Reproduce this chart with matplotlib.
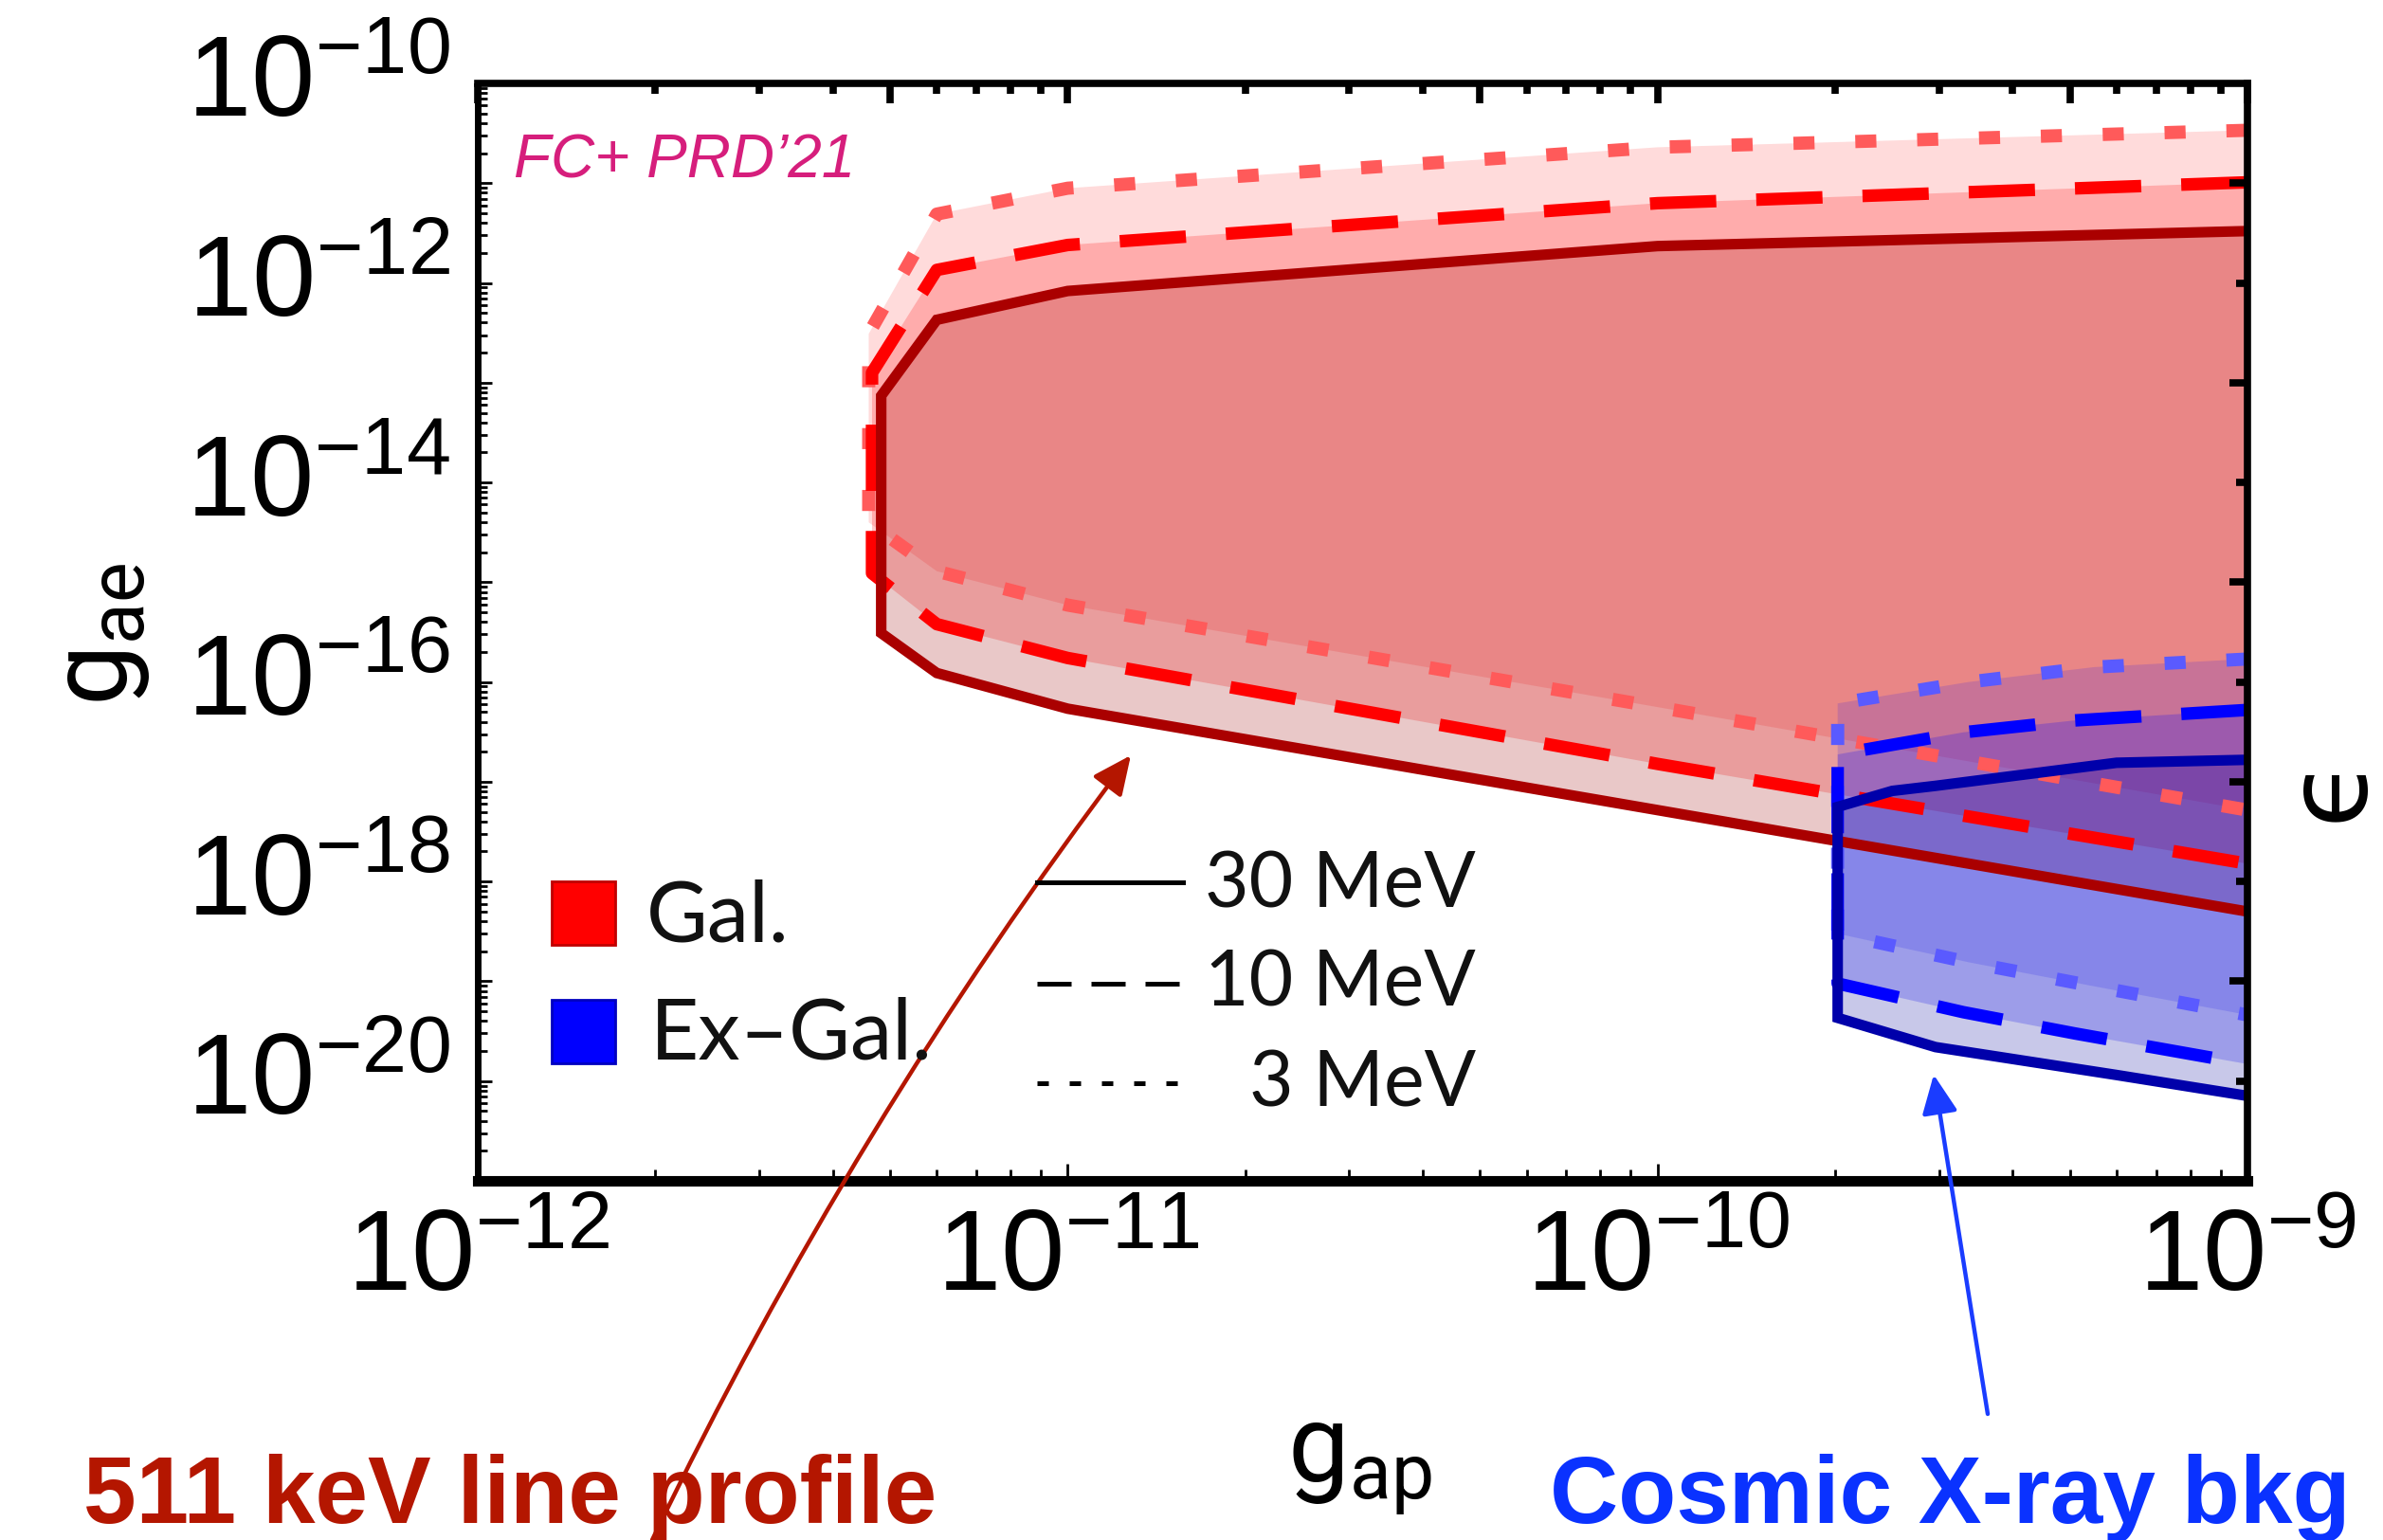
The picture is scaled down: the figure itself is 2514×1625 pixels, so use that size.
import matplotlib
matplotlib.use("Agg")
import matplotlib.pyplot as plt
from matplotlib.ticker import FixedLocator, NullFormatter, LogLocator
from matplotlib.patches import Rectangle, FancyArrowPatch
from matplotlib.lines import Line2D
from matplotlib.transforms import ScaledTranslation

plt.rcParams['font.family'] = ['Liberation Sans', 'DejaVu Sans']

# ---------------- data ----------------
gap_range = (1e-12, 1e-9)
gae_range = (1e-21, 1e-10)

x_ticks = [1e-12, 1e-11, 1e-10, 1e-9]
x_tick_labels = [r'$\mathregular{10^{-12}}$', r'$\mathregular{10^{-11}}$',
                 r'$\mathregular{10^{-10}}$', r'$\mathregular{10^{-9}}$']
y_ticks = [1e-21, 1e-20, 1e-19, 1e-18, 1e-17, 1e-16, 1e-15, 1e-14,
           1e-13, 1e-12, 1e-11, 1e-10]
y_tick_labels = ['', r'$\mathregular{10^{-20}}$', '', r'$\mathregular{10^{-18}}$', '',
                 r'$\mathregular{10^{-16}}$', '', r'$\mathregular{10^{-14}}$', '',
                 r'$\mathregular{10^{-12}}$', '', r'$\mathregular{10^{-10}}$']

# Galactic bounds (511 keV line profile): g_ap grid, upper / lower g_ae
gal_3_x = [4.6e-12, 6.0e-12, 1.0e-11, 1.0e-10, 1.0e-9]
gal_3_hi = [3.09e-13, 4.9e-12, 8.9e-12, 2.29e-11, 3.39e-11]
gal_3_lo = [3.98e-15, 1.29e-15, 5.9e-16, 5.6e-17, 5.2e-18]

gal_10_x = [4.66e-12, 6.0e-12, 1.0e-11, 1.0e-10, 1.0e-9]
gal_10_hi = [1.26e-13, 1.35e-12, 2.4e-12, 6.3e-12, 1.02e-11]
gal_10_lo = [1.23e-15, 3.8e-16, 1.74e-16, 1.51e-17, 1.51e-18]

gal_30_x = [4.83e-12, 6.0e-12, 1.0e-11, 1.0e-10, 1.0e-9]
gal_30_hi = [7.4e-14, 4.27e-13, 8.3e-13, 2.34e-12, 3.31e-12]
gal_30_lo = [3.09e-16, 1.23e-16, 5.4e-17, 5.2e-18, 5.0e-19]

# Extragalactic bounds (cosmic X-ray background)
exg_3_x = [2.02e-10, 3.37e-10, 5.5e-10, 1.0e-9]
exg_3_hi = [6.1e-17, 1.0e-16, 1.41e-16, 1.7e-16]
exg_3_lo = [3.0e-19, 1.55e-19, 8.9e-20, 4.6e-20]

exg_10_x = [2.02e-10, 3.3e-10, 5.1e-10, 1.0e-9]
exg_10_hi = [1.88e-17, 3.13e-17, 4.12e-17, 5.25e-17]
exg_10_lo = [9.5e-20, 4.9e-20, 3.0e-20, 1.48e-20]

exg_30_x = [2.02e-10, 2.5e-10, 2.96e-10, 6.0e-10, 1.0e-9]
exg_30_hi = [5.6e-18, 8.1e-18, 9.1e-18, 1.55e-17, 1.66e-17]
exg_30_lo = [4.3e-20, 2.95e-20, 2.19e-20, 1.15e-20, 7.1e-21]

mass_labels = ['30 MeV', '10 MeV', '3 MeV']
source_labels = ['Gal.', 'Ex\u2013Gal.']

# ---------------- figure ----------------
W, H, DPI = 2514, 1625, 100
fig = plt.figure(figsize=(W / DPI, H / DPI), dpi=DPI)


def fx(px):
    return px / W


def fy(py):
    return 1 - py / H


AX_L, AX_R, AX_T, AX_B = 504, 2371, 88, 1246
rect = [fx(AX_L), fy(AX_B), (AX_R - AX_L) / W, (AX_B - AX_T) / H]
ax = fig.add_axes(rect)
ax.set_xscale('log')
ax.set_yscale('log')
ax.set_xlim(gap_range)
ax.set_ylim(gae_range)


def band(x, hi, lo):
    return list(x) + list(x)[::-1], list(hi) + list(lo)[::-1]


def edge(x, hi, lo):
    return list(x)[::-1] + list(x), list(hi)[::-1] + list(lo)


gal = [(gal_3_x, gal_3_hi, gal_3_lo), (gal_10_x, gal_10_hi, gal_10_lo),
       (gal_30_x, gal_30_hi, gal_30_lo)]
exg = [(exg_3_x, exg_3_hi, exg_3_lo), (exg_10_x, exg_10_hi, exg_10_lo),
       (exg_30_x, exg_30_hi, exg_30_lo)]

red_fill = [((1, 0, 0), 0.14), ((1, 0, 0), 0.21), ((0.6, 0, 0), 0.216)]
blue_fill = [((0, 0, 1), 0.14), ((0, 0, 1), 0.21), ((0, 0, 0.6), 0.216)]
red_line = ['#FF5A5A', '#FF0000', '#AA0000']
blue_line = ['#5A5AFF', '#0000FF', '#0000AA']
styles = [dict(lw=10, linestyle=(0, (1.6, 3.1))),
          dict(lw=9.5, linestyle=(0, (5.3, 3.2))),
          dict(lw=8, linestyle='-')]

for (x, hi, lo), (c, a) in zip(gal, red_fill):
    xs, ys = band(x, hi, lo)
    ax.fill(xs, ys, color=c, alpha=a, lw=0, zorder=1)
for (x, hi, lo), (c, a) in zip(exg, blue_fill):
    xs, ys = band(x, hi, lo)
    ax.fill(xs, ys, color=c, alpha=a, lw=0, zorder=1)
for (x, hi, lo), col, st in zip(gal, red_line, styles):
    xs, ys = edge(x, hi, lo)
    ax.plot(xs, ys, color=col, zorder=2, solid_joinstyle='miter', **st)
for (x, hi, lo), col, st in zip(exg, blue_line, styles):
    xs, ys = edge(x, hi, lo)
    ax.plot(xs, ys, color=col, zorder=2.1, solid_joinstyle='miter', **st)

# frame
for side, w in (('left', 5), ('bottom', 8), ('top', 5.5), ('right', 5.5)):
    ax.spines[side].set_linewidth(w)
    ax.spines[side].set_capstyle('projecting')

tick_font = ['Liberation Sans Narrow', 'Liberation Sans']
ax.set_xticks(x_ticks, labels=x_tick_labels, fontfamily=tick_font)
ax.set_yticks(y_ticks, labels=y_tick_labels, fontfamily=tick_font)
ax.xaxis.set_minor_locator(LogLocator(base=10, subs=(2, 3, 4, 5, 6, 7, 8, 9), numticks=50))
ax.yaxis.set_minor_locator(LogLocator(base=10, subs=(2, 3, 4, 5, 6, 7, 8, 9), numticks=50))
ax.xaxis.set_minor_formatter(NullFormatter())
ax.yaxis.set_minor_formatter(NullFormatter())
ax.tick_params(axis='both', which='both', direction='in', top=False, right=False,
               labelsize=87, pad=21)
ax.tick_params(axis='x', which='major', length=13, width=2)
ax.tick_params(axis='x', which='minor', length=9, width=2)
ax.tick_params(axis='y', which='major', length=11, width=2)
ax.tick_params(axis='y', which='minor', length=7, width=2)
for t in ax.yaxis.get_major_ticks():
    t.label1.set_transform(t.label1.get_transform() +
                           ScaledTranslation(0, 8 / DPI, fig.dpi_scale_trans))

# top / right tick marks
ax2 = fig.add_axes(rect, frameon=False)
ax2.set_xscale('log')
ax2.set_yscale('log')
ax2.set_xlim(gap_range)
ax2.set_ylim(gae_range)
ax2.xaxis.set_major_locator(FixedLocator([1e-12, 5e-12, 1e-11, 5e-11, 1e-10, 5e-10, 1e-9]))
ax2.xaxis.set_minor_locator(LogLocator(base=10, subs=(2, 3, 4, 6, 7, 8, 9), numticks=50))
ax2.yaxis.set_major_locator(FixedLocator([1e-21, 1e-19, 1e-17, 1e-15, 1e-13, 1e-11]))
ax2.yaxis.set_minor_locator(FixedLocator([1e-20, 1e-18, 1e-16, 1e-14, 1e-12]))
ax2.xaxis.set_major_formatter(NullFormatter())
ax2.xaxis.set_minor_formatter(NullFormatter())
ax2.yaxis.set_major_formatter(NullFormatter())
ax2.yaxis.set_minor_formatter(NullFormatter())
ax2.tick_params(axis='both', which='both', direction='in', bottom=False, left=False,
                top=True, right=True, labelbottom=False, labelleft=False)
ax2.tick_params(axis='x', which='major', length=15, width=5.5)
ax2.tick_params(axis='x', which='minor', length=8, width=5.5)
ax2.tick_params(axis='y', which='major', length=14, width=5.5)
ax2.tick_params(axis='y', which='minor', length=8.4, width=5.5)

# axis labels
ax.set_xlabel(r'$\mathregular{g_{ap}}$', fontsize=83, fontfamily='Roboto', va='center')
ax.xaxis.set_label_coords((1435 - AX_L) / (AX_R - AX_L), (AX_B - 1547) / (AX_B - AX_T))
ax.set_ylabel(r'$\mathregular{g_{ae}}$', fontsize=83, fontfamily='Roboto', va='center')
ax.yaxis.set_label_coords((106 - AX_L) / (AX_R - AX_L), (AX_B - 669) / (AX_B - AX_T))

# right-hand axis symbol
fig.text(fx(2458), fy(831), '\u03f5', rotation=90, ha='center', va='center',
         fontsize=84, fontfamily='DejaVu Sans')

fig.text(fx(542), fy(187), 'FC+ PRD\u201921', color='#D61E7C', fontsize=46,
         style='italic', ha='left', va='baseline')

# legend: sources
fig.add_artist(Rectangle((fx(582), fy(997)), 67 / W, 67 / H, transform=fig.transFigure,
                         facecolor='#FF0000', edgecolor='#C00000', lw=2))
fig.add_artist(Rectangle((fx(582), fy(1122)), 67 / W, 67 / H, transform=fig.transFigure,
                         facecolor='#0000FF', edgecolor='#0000C0', lw=2))
fig.text(fx(682), fy(993), source_labels[0], fontsize=64, fontfamily='Lato',
         color='#111111', ha='left', va='baseline')
fig.text(fx(686), fy(1117), source_labels[1], fontsize=64, fontfamily='Lato',
         color='#111111', ha='left', va='baseline')

# legend: masses
leg_styles = [dict(linestyle='-'), dict(linestyle=(0, (7.2, 4.2))),
              dict(linestyle=(0, (2.4, 4.4)))]
for lbl, st, ly, ty in zip(mass_labels, leg_styles, (931, 1038, 1143), (958, 1062, 1168)):
    fig.add_artist(Line2D([fx(1094), fx(1248)], [fy(ly), fy(ly)], transform=fig.transFigure,
                          color='black', lw=3.6, **st))
    fig.text(fx(1557), fy(ty), lbl, fontsize=58, fontfamily='Lato', color='#111111',
             ha='right', va='baseline')

# annotations
fig.add_artist(FancyArrowPatch((fx(688), fy(1625)), (fx(1193), fy(797)),
                               transform=fig.transFigure, color='#B41600', lw=3.2,
                               arrowstyle='-|>,head_length=25,head_width=11.5',
                               connectionstyle='arc3,rad=-0.05', shrinkA=0, shrinkB=0))
fig.add_artist(FancyArrowPatch((fx(2097), fy(1492)), (fx(2040), fy(1134)),
                               transform=fig.transFigure, color='#1A3CFF', lw=3.2,
                               arrowstyle='-|>,head_length=25,head_width=11.5',
                               shrinkA=0, shrinkB=0))
fig.text(fx(88), fy(1607), '511 keV line profile', color='#B41600', fontsize=72,
         fontweight='bold', ha='left', va='baseline')
fig.text(fx(1635), fy(1607), 'Cosmic X-ray bkg', color='#0A32FF', fontsize=72,
         fontweight='bold', ha='left', va='baseline')

fig.savefig('out.png', dpi=DPI)
